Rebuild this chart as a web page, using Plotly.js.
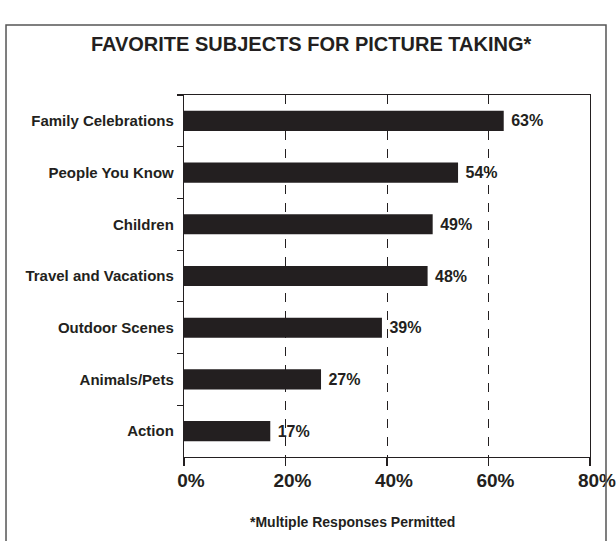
<!DOCTYPE html>
<html><head><meta charset="utf-8">
<script src="https://cdn.plot.ly/plotly-3.0.1.min.js"></script>
<style>body{margin:0;background:#fff}#c{width:616px;height:541px}</style>
</head><body><div id="c"></div>
<script>
const categories = ["Family Celebrations","People You Know","Children","Travel and Vacations","Outdoor Scenes","Animals/Pets","Action"];
const values = [63,54,49,48,39,27,17];
const xTicks = [0,20,40,60,80];
const xTickLabels = ["0%","20%","40%","60%","80%"];
const titleText = "FAVORITE SUBJECTS FOR PICTURE TAKING*";
const footnote = "*Multiple Responses Permitted";

const ink = "#231f20";
const fam = "Liberation Sans, Arial, sans-serif";
const trace = {
  type: "bar", orientation: "h",
  x: values, y: categories,
  marker: {color: ink, line: {width: 0}},
  text: values.map(v => "&nbsp;" + v + "%"),
  textposition: "outside", cliponaxis: false,
  textfont: {family: fam, size: 16, color: ink, weight: "bold"},
  hoverinfo: "skip"
};
const layout = {
  width: 616, height: 541,
  margin: {l: 184, r: 26, t: 95, b: 84},
  paper_bgcolor: "#fff", plot_bgcolor: "#fff",
  showlegend: false, bargap: 0.61,
  font: {family: fam, color: ink},
  title: {text: "<b>" + titleText + "</b>", x: 0.505, xref: "container", xanchor: "center", y: 1, yref: "container", yanchor: "top", pad: {t: 37},
          font: {size: 20, color: ink}},
  xaxis: {range: [0, 80], tickvals: xTicks, ticktext: xTickLabels, ticks: "outside", ticklen: 8, tickwidth: 1.2, tickcolor: ink,
          showline: true, linecolor: ink, linewidth: 1.2, mirror: true,
          showgrid: true, gridcolor: ink, griddash: "dash", gridwidth: 1, zeroline: false,
          tickfont: {size: 19, color: ink, weight: "bold"}, ticklabelstandoff: -2, ticklabelshift: 7, ticklabeloverflow: "allow",
          fixedrange: true},
  yaxis: {autorange: "reversed", type: "category", tickson: "boundaries", ticks: "outside", ticklen: 6, tickwidth: 1.2, tickcolor: ink,
          showline: true, linecolor: ink, linewidth: 1.2, mirror: true, showgrid: false,
          tickfont: {size: 15, color: ink, weight: "bold"}, ticklabelstandoff: 6, fixedrange: true},
  shapes: [{type: "rect", xref: "paper", yref: "paper", x0: -0.4384, x1: 1.0394, y0: -0.25, y1: 1.1932,
            line: {color: "#555", width: 1.5}, fillcolor: "rgba(0,0,0,0)"}],
  annotations: [{text: footnote, xref: "paper", yref: "paper", x: 0.415, y: -0.18, xanchor: "center", yanchor: "middle", showarrow: false,
                 font: {size: 14, color: ink, weight: "bold"}}]
};
Plotly.newPlot("c", [trace], layout, {displayModeBar: false, staticPlot: true});
</script></body></html>
